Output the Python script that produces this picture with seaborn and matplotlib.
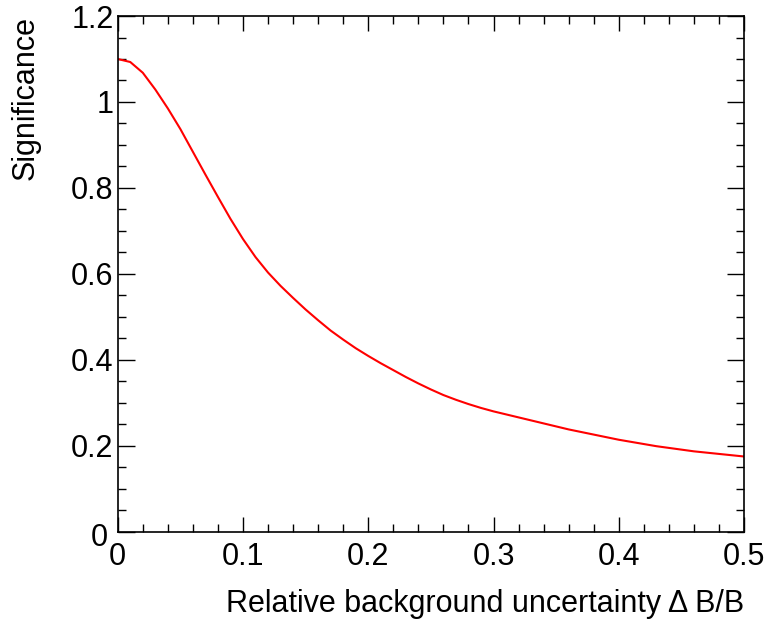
import seaborn as sns
import matplotlib.pyplot as plt
import matplotlib.ticker as ticker
import matplotlib.transforms as mtransforms
import pandas as pd

# relative background uncertainty (dB/B) and the resulting significance
rel_unc = [0.00, 0.01, 0.02, 0.03, 0.04, 0.05, 0.06, 0.07, 0.08, 0.09,
           0.10, 0.11, 0.12, 0.13, 0.14, 0.15, 0.16, 0.17, 0.18, 0.19,
           0.20, 0.21, 0.22, 0.23, 0.24, 0.25, 0.26, 0.27, 0.28, 0.29,
           0.30, 0.31, 0.32, 0.33, 0.34, 0.35, 0.36, 0.37, 0.38, 0.39,
           0.40, 0.41, 0.42, 0.43, 0.44, 0.45, 0.46, 0.47, 0.48, 0.49, 0.50]
significance = [1.100, 1.093, 1.068, 1.029, 0.985, 0.937, 0.884, 0.831, 0.779, 0.728,
                0.681, 0.639, 0.603, 0.572, 0.544, 0.517, 0.492, 0.468, 0.447, 0.427,
                0.409, 0.392, 0.376, 0.360, 0.345, 0.331, 0.318, 0.307, 0.297, 0.288,
                0.280, 0.273, 0.266, 0.259, 0.252, 0.245, 0.238, 0.232, 0.226, 0.220,
                0.214, 0.209, 0.204, 0.199, 0.195, 0.191, 0.187, 0.184, 0.181, 0.178, 0.175]

x_ticks = [0, 0.1, 0.2, 0.3, 0.4, 0.5]
y_ticks = [0, 0.2, 0.4, 0.6, 0.8, 1.0, 1.2]

df = pd.DataFrame({"unc": rel_unc, "sig": significance})

sns.set_style("ticks")
plt.rcParams["font.family"] = ["Liberation Sans", "DejaVu Sans"]
plt.rcParams["text.color"] = "black"
plt.rcParams["axes.labelcolor"] = "black"
plt.rcParams["xtick.color"] = "black"
plt.rcParams["ytick.color"] = "black"

fig = plt.figure(figsize=(7.66, 6.21), dpi=100)
ax = fig.add_axes([0.1537, 0.1438, 0.8176, 0.8304])

sns.lineplot(data=df, x="unc", y="sig", color="#ff0000", linewidth=1.5, ax=ax)

ax.set_xlim(0, 0.5)
ax.set_ylim(0, 1.2)
ax.set_xticks(x_ticks)
ax.set_yticks(y_ticks)
ax.xaxis.set_minor_locator(ticker.MultipleLocator(0.02))
ax.yaxis.set_minor_locator(ticker.MultipleLocator(0.05))
fmt = ticker.FuncFormatter(lambda v, p: "%g" % round(v, 2))
ax.xaxis.set_major_formatter(fmt)
ax.yaxis.set_major_formatter(fmt)

ax.tick_params(which="both", direction="in", top=True, right=True,
               color="black", labelcolor="black", width=1.0, labelsize=22)
ax.tick_params(axis="x", which="major", length=10.5, pad=7.5)
ax.tick_params(axis="x", which="minor", length=5.5)
ax.tick_params(axis="y", which="major", length=12.5, pad=3)
ax.tick_params(axis="y", which="minor", length=6)

# nudge the y "0" so it sits left/below like the original, clear of the x "0"
ylab0 = ax.yaxis.get_major_ticks()[0].label1
ylab0.set_transform(ylab0.get_transform() +
                    mtransforms.ScaledTranslation(-6 / 100, -3 / 100, fig.dpi_scale_trans))

for s in ax.spines.values():
    s.set_visible(True)
    s.set_linewidth(1.2)
    s.set_color("black")

ax.set_xlabel("Relative background uncertainty \u0394 B/B", fontsize=22,
              loc="right", labelpad=12, color="black")
ax.set_ylabel("Significance", fontsize=22, loc="top", labelpad=22, color="black")

fig.savefig("out.png", dpi=100)
